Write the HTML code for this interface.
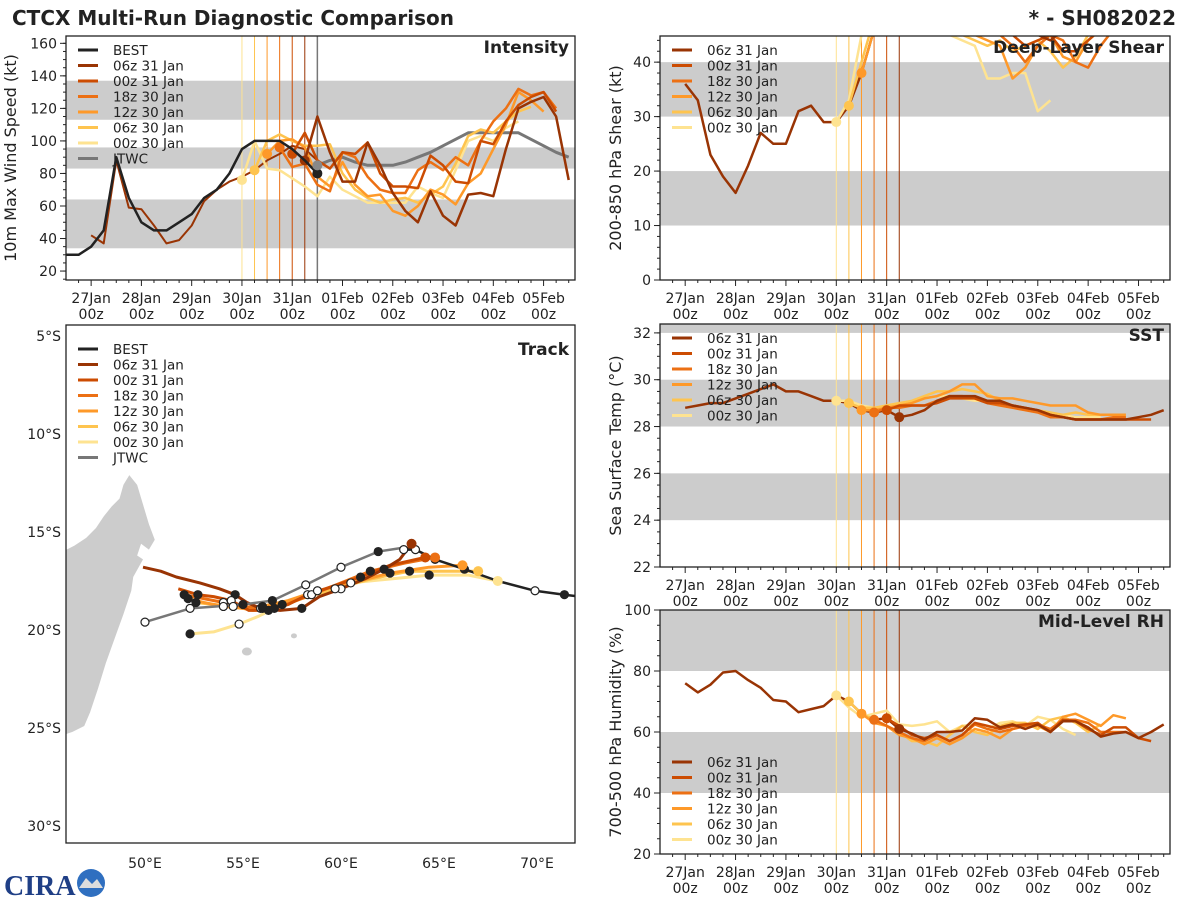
<!DOCTYPE html>
<html><head><meta charset="utf-8"><style>
html,body{margin:0;padding:0;background:#fff;}
svg{display:block;font-family:"DejaVu Sans","Liberation Sans",sans-serif;}
</style></head><body>
<svg id="chart" width="1200" height="900" viewBox="0 0 1200 900" xmlns="http://www.w3.org/2000/svg">
<text x="12" y="25" font-size="20" font-weight="bold" fill="#222">CTCX Multi-Run Diagnostic Comparison</text>
<text x="1176" y="25" font-size="20" font-weight="bold" fill="#222" text-anchor="end">* - SH082022</text>
<g>
<text x="4" y="895" font-size="28" font-weight="bold" fill="#1f3f86" font-family="Liberation Serif,serif">CIRA</text>
<circle cx="91" cy="883" r="14" fill="#2f6fc0"/><path d="M79,888 L86,878 L92,884 L97,879 L103,888 Z" fill="#ddd"/>
</g>
</svg>
<script>
const SVGNS="http://www.w3.org/2000/svg";
const svg=document.getElementById('chart');
const dayLabels=['27Jan','28Jan','29Jan','30Jan','31Jan','01Feb','02Feb','03Feb','04Feb','05Feb'];
const runNames=['06z 31 Jan','00z 31 Jan','18z 30 Jan','12z 30 Jan','06z 30 Jan','00z 30 Jan'];
const runStarts=[4.25,4.0,3.75,3.5,3.25,3.0];
const runColors=['#993404','#cc4c02','#ec7014','#fe9929','#fec44f','#fee391'];
// Intensity
const bestStart=-0.5;
const bestVmax=[30,30,35,45,90,65,50,45,45,50,55,65,70,80,95,100,100,100,95,88,80];
const histVmaxStart=0;
const histVmax=[42,37,88,59,58,48,37,39,48,63,70,75,78,82,88,92,97,95,88];
const jtwcStart=4.5;
const jtwcVmax=[85,88,90,87,85,85,85,87,90,93,97,101,105,105,105,105,105,101,97,93,90];
const intRuns=[
[88,115,93,75,75,99,85,68,57,50,69,54,48,67,68,66,95,120,124,127,115,76],
[92,105,88,83,93,92,99,80,72,72,71,91,85,75,74,100,98,112,122,127,130,118],
[96,84,86,73,69,93,90,78,70,68,68,82,87,82,90,85,100,112,120,132,128,130,120],
[92,100,101,96,78,72,87,73,66,67,57,54,60,70,67,61,74,80,95,110,130,125,118],
[82,100,104,100,97,97,98,80,70,65,62,64,65,62,67,72,86,103,107,105,112,118,121],
[76,100,83,82,77,72,66,78,70,66,62,62,62,62,72,68,65,82,100,103,100,108,112]];
// Shear
const histShear=[36,33,23,19,16,21,27,25,25,31,32,29,29,32,38,46,52];
const shearRuns=[
[50,52,54,55,55,53,52,50,48,47,46,45,44,46,45,46,48,50,50,50,50],
[48,50,52,52,52,50,49,48,47,46,45,43,44,45,42,42,44,46,48,48],
[46,50,52,52,50,49,48,47,46,46,45,43,40,43,45,44,40,39,43,46],
[38,46,50,52,52,50,49,48,46,45,44,43,37,39,43,45,41,40,44,46],
[32,40,48,50,52,50,48,47,46,45,44,43,44,42,43,44,42,39,41,45],
[29,33,45,50,52,50,48,47,46,45,44,43,37,37,38,38,31,33]];
// SST
const histSST=[28.8,28.9,29.0,29.0,29.2,29.4,29.6,29.8,29.5,29.5,29.3,29.1,29.1,29.0,28.7,28.6,28.7,28.4];
const sstRuns=[
[28.4,28.5,28.7,29.1,29.3,29.3,29.3,29.1,29.1,28.9,28.8,28.7,28.5,28.4,28.3,28.3,28.3,28.3,28.3,28.4,28.5,28.7],
[28.7,28.9,28.9,28.9,29.0,29.2,29.2,29.2,29.0,29.0,28.9,28.8,28.7,28.5,28.4,28.3,28.3,28.3,28.3,28.3,28.3,28.3],
[28.6,28.8,28.8,28.9,28.9,29.1,29.3,29.3,29.2,29.0,28.9,28.8,28.7,28.6,28.4,28.4,28.3,28.3,28.3,28.4,28.4],
[28.7,28.7,28.8,28.9,29.0,29.2,29.3,29.5,29.8,29.8,29.3,29.2,29.2,29.1,29.0,28.9,28.9,28.9,28.6,28.5,28.5,28.5],
[29.0,28.8,28.8,28.9,29.0,29.1,29.3,29.5,29.5,29.6,29.5,29.4,29.1,28.9,28.8,28.7,28.6,28.5,28.6,28.5,28.5,28.5],
[29.1,29.1,28.9,28.8,28.9,29.0,29.0,29.2,29.3,29.3,29.2,29.1,29.1,28.9,28.8,28.7,28.6,28.5,28.5,28.4,28.4,28.4]];
// RH
const histRH=[76,73,75.5,79.5,80,77,74.5,70.5,70,66.5,67.5,68.5,72,70,66,64,64.5,61];
const rhRuns=[
[61,59.5,57.5,60,60,60.5,64.5,64,61.5,62.5,61,62.5,60,63.5,63.5,61.5,58.5,59.5,60,58,60,62.5],
[64.5,62,59,58,59,57,59,63,62,61,62,62.5,63,60,64,63.5,61,59,61.5,61.5,58,57],
[64,62,60,58,57,59,57,59,62.5,61,60,61,62,62.5,61,64,64,63,60,60,60,58],
[66,63,62,59,58,56,58,56,58,61,60,58,61,62,62,60,65,66,64,62,65.5,64.5],
[70,66,64,62,60,57,57,55.5,59,62,60,59,62,63,63,61,64,65,63,60,62.5],
[72,68,65,66,67,62.5,62,62.5,63.5,60,62,62.5,61,63,63.5,62,65,64,61,59]];
// Track (lon, lat)
const bestTrack=[[72.2,-18.3],[71.4,-18.2],[69.9,-18.0],[68.0,-17.5],[66.3,-16.9],[64.8,-16.4],[63.8,-15.9],[63.2,-15.9]];
const jtwcTrack=[[63.2,-15.8],[61.9,-16.0],[60.0,-16.8],[58.2,-17.7],[56.5,-18.5],[55.0,-18.7],[52.3,-18.9],[50.0,-19.6]];
const runTracks=[
[[63.6,-15.6],[63.0,-16.4],[62.2,-16.9],[61.2,-17.4],[60.0,-17.9],[58.9,-18.3],[58.0,-18.9],[56.9,-19.0],[55.9,-18.9],[55.2,-18.6],[54.6,-18.2],[53.8,-17.9],[52.8,-17.6],[51.6,-17.3],[50.8,-17.0],[49.9,-16.8]],
[[64.3,-16.3],[62.5,-16.7],[61.0,-17.3],[59.5,-17.8],[58.3,-18.2],[57.3,-18.7],[56.3,-19.0],[55.3,-19.0],[54.4,-18.5],[53.5,-18.3],[52.7,-18.2],[51.7,-17.9]],
[[64.8,-16.3],[63.2,-16.6],[61.5,-17.0],[60.0,-17.6],[58.5,-18.2],[57.2,-18.7],[56.0,-18.9],[55.0,-18.8],[54.0,-18.6],[53.0,-18.4],[52.0,-18.2]],
[[66.2,-16.7],[64.5,-16.8],[62.5,-17.1],[60.5,-17.6],[58.8,-18.0],[57.3,-18.5],[56.0,-18.8],[55.0,-18.9],[54.0,-18.8],[53.0,-18.6],[52.2,-18.4]],
[[67.0,-17.0],[65.5,-17.0],[63.5,-17.0],[61.5,-17.4],[59.7,-17.9],[58.0,-18.4],[56.6,-18.9],[55.5,-19.0],[54.5,-18.8],[53.5,-18.7],[52.6,-18.6]],
[[68.0,-17.5],[66.5,-17.2],[64.5,-17.2],[62.5,-17.4],[60.5,-17.6],[58.5,-18.1],[57.0,-18.7],[55.8,-19.3],[54.8,-19.7],[53.5,-20.1],[52.3,-20.2]]];
const madagascar=[[46,-15.9],[46.4,-15.7],[47.0,-15.3],[47.5,-14.8],[47.9,-14.2],[48.3,-13.7],[48.7,-13.3],[48.9,-12.6],[49.2,-12.1],[49.6,-12.6],[49.9,-13.6],[50.2,-14.6],[50.5,-15.4],[50.2,-15.9],[49.8,-15.6],[49.6,-16.2],[49.9,-16.4],[49.4,-17.3],[49.3,-18.0],[48.9,-19.2],[48.5,-20.3],[48.0,-21.7],[47.6,-23.0],[47.2,-24.2],[46.9,-24.9],[46.3,-25.2],[46,-25.3]];

const D0=-0.5,D1=9.625;
function el(tag,parent){const e=document.createElementNS(SVGNS,tag);(parent||svg).appendChild(e);return e;}
function att(e,o){for(const k in o)e.setAttribute(k,o[k]);return e;}
function sx(p,d){return p.x0+(d-D0)/(D1-D0)*(p.x1-p.x0);}
function sy(p,v){return p.y1-(v-p.ymin)/(p.ymax-p.ymin)*(p.y1-p.y0);}
let clipN=0;
function panel(p){
  const g=el('g');
  
  
  const cid='clip'+(clipN++);
  const cp=el('clipPath',g);att(cp,{id:cid});
  att(el('rect',cp),{x:p.x0,y:p.y0,width:p.x1-p.x0,height:p.y1-p.y0});
  p.g=g;p.clip=cid;
  for(const b of p.bands){
    const r=el('rect',g);
    att(r,{x:p.x0,y:sy(p,Math.min(b[1],p.ymax)),width:p.x1-p.x0,height:sy(p,b[0])-sy(p,Math.min(b[1],p.ymax)),fill:'#cccccc'});
    
    
  }
  for(const t of p.yticks){
    const y=sy(p,t);
    att(el('line',g),{x1:p.x0-6,x2:p.x0,y1:y,y2:y,stroke:'#222','stroke-width':1});
    const tx=el('text',g);att(tx,{x:p.x0-9,y:y+5,'font-size':14,fill:'#222','text-anchor':'end'});tx.textContent=t;
    
    
  }
  const step=(p.yticks[1]-p.yticks[0])/p.minor;
  for(let v=p.yticks[0]-step*p.minor;v<=p.ymax;v+=step){if(v<p.ymin)continue;const y=sy(p,v);att(el('line',g),{x1:p.x0-3,x2:p.x0,y1:y,y2:y,stroke:'#222','stroke-width':1});}
  for(let d=-0.25;d<=9.5;d+=0.25){
    const x=sx(p,d);const major=Math.abs(d-Math.round(d))<1e-6;
    att(el('line',g),{x1:x,x2:x,y1:p.y1,y2:p.y1+(major?6:3),stroke:'#222','stroke-width':1});
  }
  for(let i=0;i<dayLabels.length;i++){
    const x=sx(p,i);
    const t1=el('text',g);att(t1,{x:x,y:p.y1+23,'font-size':14,fill:'#222','text-anchor':'middle'});t1.textContent=dayLabels[i];
    
    
    const t2=el('text',g);att(t2,{x:x,y:p.y1+39,'font-size':14,fill:'#222','text-anchor':'middle'});t2.textContent='00z';
    
    
  }
  const yl=el('text',g);const cy=(p.y0+p.y1)/2;
  att(yl,{x:p.ylx,y:cy,'font-size':16,fill:'#222','text-anchor':'middle',transform:`rotate(-90 ${p.ylx} ${cy})`});yl.textContent=p.ylabel;
  
  
  return g;
}
function vline(p,d,c,w){const l=el('line',p.g);att(l,{x1:sx(p,d),x2:sx(p,d),y1:p.y0,y2:p.y1,stroke:c,'stroke-width':w||1});
  
  }
function series(p,start,vals,c,w,name){
  const pts=vals.map((v,i)=>sx(p,start+i*0.25).toFixed(1)+','+sy(p,v).toFixed(1)).join(' ');
  const pl=el('polyline',p.g);att(pl,{points:pts,fill:'none',stroke:c,'stroke-width':w||2.5,'stroke-linejoin':'round','clip-path':'url(#'+p.clip+')'});
  
  
}
function dot(p,d,v,c,r){const ci=el('circle',p.g);att(ci,{cx:sx(p,d),cy:sy(p,v),r:r||5,fill:c,'clip-path':'url(#'+p.clip+')'});
  
  }
function frame(p){const r=el('rect',p.g);att(r,{x:p.x0,y:p.y0,width:p.x1-p.x0,height:p.y1-p.y0,fill:'none',stroke:'#222','stroke-width':1.3});}
function title(p,t){const tx=el('text',p.g);att(tx,{x:p.x1-6,y:p.y0+17,'font-size':17,'font-weight':'bold',fill:'#222','text-anchor':'end'});tx.textContent=t;
  
  }
function legend(g,x,y,items){
  items.forEach((it,i)=>{
    const yy=y+i*15.5;
    att(el('line',g),{x1:x,x2:x+20,y1:yy,y2:yy,stroke:it[1],'stroke-width':3});
    const t=el('text',g);att(t,{x:x+35,y:yy+5,'font-size':13.5,fill:'#222'});t.textContent=it[0];
    
    
  });
}
const runItems=runNames.map((n,i)=>[n,runColors[i]]);

const pI={name:'intensity',x0:66,x1:575,y0:36,y1:280,ymin:14.5,ymax:164.5,yticks:[20,40,60,80,100,120,140,160],minor:4,bands:[[34,64],[83,96],[113,137]],ylabel:'10m Max Wind Speed (kt)',ylx:16};
panel(pI);
runStarts.forEach((s,i)=>vline(pI,s,runColors[i]));
vline(pI,jtwcStart,'#777',1.5);
series(pI,histVmaxStart,histVmax,runColors[0],2,'history-line');
series(pI,jtwcStart,jtwcVmax,'#777',3,'jtwc-intensity-line');
for(let i=runColors.length-1;i>=0;i--){series(pI,runStarts[i],intRuns[i],runColors[i],2.5,'intensity-run-line');dot(pI,runStarts[i],intRuns[i][0],runColors[i]);}
series(pI,bestStart,bestVmax,'#222',2.5,'best-intensity-line');
dot(pI,bestStart+(bestVmax.length-1)*0.25,bestVmax[bestVmax.length-1],'#222');
dot(pI,jtwcStart,jtwcVmax[0],'#888');
legend(pI.g,78,50,[['BEST','#222']].concat(runItems).concat([['JTWC','#777']]));
title(pI,'Intensity');frame(pI);

const pS={name:'shear',x0:660,x1:1170,y0:36,y1:280,ymin:0,ymax:44.8,yticks:[0,10,20,30,40],minor:5,bands:[[10,20],[30,40]],ylabel:'200-850 hPa Shear (kt)',ylx:621};
panel(pS);
runStarts.forEach((s,i)=>vline(pS,s,runColors[i]));
series(pS,0,histShear,runColors[0],2.5,'history-line');
for(let i=runColors.length-1;i>=0;i--){series(pS,runStarts[i],shearRuns[i],runColors[i],2.5,'shear-run-line');dot(pS,runStarts[i],shearRuns[i][0],runColors[i]);}
legend(pS.g,672,50,runItems);title(pS,'Deep-Layer Shear');frame(pS);

const pT={name:'sst',x0:660,x1:1170,y0:324,y1:567,ymin:22,ymax:32.38,yticks:[22,24,26,28,30,32],minor:4,bands:[[24,26],[28,30],[32,33]],ylabel:'Sea Surface Temp (°C)',ylx:621};
panel(pT);
runStarts.forEach((s,i)=>vline(pT,s,runColors[i]));
series(pT,0,histSST,runColors[0],2.5,'history-line');
for(let i=runColors.length-1;i>=0;i--){series(pT,runStarts[i],sstRuns[i],runColors[i],2.5,'sst-run-line');dot(pT,runStarts[i],sstRuns[i][0],runColors[i]);}
legend(pT.g,672,338,runItems);title(pT,'SST');frame(pT);

const pR={name:'rh',x0:660,x1:1170,y0:610,y1:854,ymin:20,ymax:100,yticks:[20,40,60,80,100],minor:4,bands:[[40,60],[80,100]],ylabel:'700-500 hPa Humidity (%)',ylx:621};
panel(pR);
runStarts.forEach((s,i)=>vline(pR,s,runColors[i]));
series(pR,0,histRH,runColors[0],2.5,'history-line');
for(let i=runColors.length-1;i>=0;i--){series(pR,runStarts[i],rhRuns[i],runColors[i],2.5,'rh-run-line');dot(pR,runStarts[i],rhRuns[i][0],runColors[i]);}
legend(pR.g,672,762,runItems);title(pR,'Mid-Level RH');frame(pR);

const tp={x0:66,x1:575,y0:325,y1:843,lon0:45.97,lon1:71.94,lat0:-4.44,lat1:-30.87};
function tx(l){return tp.x0+(l-tp.lon0)/(tp.lon1-tp.lon0)*(tp.x1-tp.x0);}
function ty(l){return tp.y0+(l-tp.lat0)/(tp.lat1-tp.lat0)*(tp.y1-tp.y0);}
const tg=el('g');


const tcp=el('clipPath',tg);att(tcp,{id:'trackclip'});att(el('rect',tcp),{x:tp.x0,y:tp.y0,width:tp.x1-tp.x0,height:tp.y1-tp.y0});
const land=el('polygon',tg);att(land,{points:madagascar.map(p=>tx(p[0])+','+ty(p[1])).join(' ')+' '+tx(45)+','+ty(-25.3)+' '+tx(45)+','+ty(-15.9),fill:'#cccccc','clip-path':'url(#trackclip)'});


[[55.2,-21.1,5,4],[57.6,-20.3,3,2.5]].forEach(a=>{const e=el('ellipse',tg);att(e,{cx:tx(a[0]),cy:ty(a[1]),rx:a[2],ry:a[3],fill:'#cccccc'});
  
  });
function trackLine(pts,c,w,name,mk){
  const pl=el('polyline',tg);att(pl,{points:pts.map(p=>tx(p[0]).toFixed(1)+','+ty(p[1]).toFixed(1)).join(' '),fill:'none',stroke:c,'stroke-width':w,'stroke-linejoin':'round','clip-path':'url(#trackclip)'});
  
  
  if(mk){pts.forEach((p,i)=>{if(i===0)return;const ci=el('circle',tg);att(ci,{cx:tx(p[0]),cy:ty(p[1]),r:4,fill:(i%4<2)?'#222':'#fff',stroke:'#222','stroke-width':1.2});
    
    });}
}
for(let i=runColors.length-1;i>=0;i--)trackLine(runTracks[i],runColors[i],3,'forecast-track',null);
trackLine(jtwcTrack,'#777',2.5,'jtwc-track','all');
trackLine(bestTrack,'#222',2.5,'best-track','all');
runTracks.forEach((t,i)=>{const ci=el('circle',tg);att(ci,{cx:tx(t[0][0]),cy:ty(t[0][1]),r:5,fill:runColors[i]});
  
  });
runTracks.forEach((t,i)=>{[2,4,6,8,10].forEach(k=>{if(t[k]){const ci=el('circle',tg);att(ci,{cx:tx(t[k][0]),cy:ty(t[k][1]),r:4,fill:(k%4===2)?'#222':'#fff',stroke:'#222','stroke-width':1.2});
  
  }});});
const lonTicks=[50,55,60,65,70];const latTicks=[-5,-10,-15,-20,-25,-30];
lonTicks.forEach(l=>{const t=el('text',tg);att(t,{x:tx(l),y:tp.y1+25,'font-size':14,fill:'#222','text-anchor':'middle'});t.textContent=l+'°E';
  
  });
latTicks.forEach(l=>{const t=el('text',tg);att(t,{x:tp.x0-5,y:ty(l)+5,'font-size':14,fill:'#222','text-anchor':'end'});t.textContent=(-l)+'°S';
  
  });
legend(tg,78,349,[['BEST','#222']].concat(runItems).concat([['JTWC','#777']]));
const tt=el('text',tg);att(tt,{x:tp.x1-6,y:tp.y0+30,'font-size':17,'font-weight':'bold',fill:'#222','text-anchor':'end'});tt.textContent='Track';


att(el('rect',tg),{x:tp.x0,y:tp.y0,width:tp.x1-tp.x0,height:tp.y1-tp.y0,fill:'none',stroke:'#222','stroke-width':1.3});
</script>
</body></html>
